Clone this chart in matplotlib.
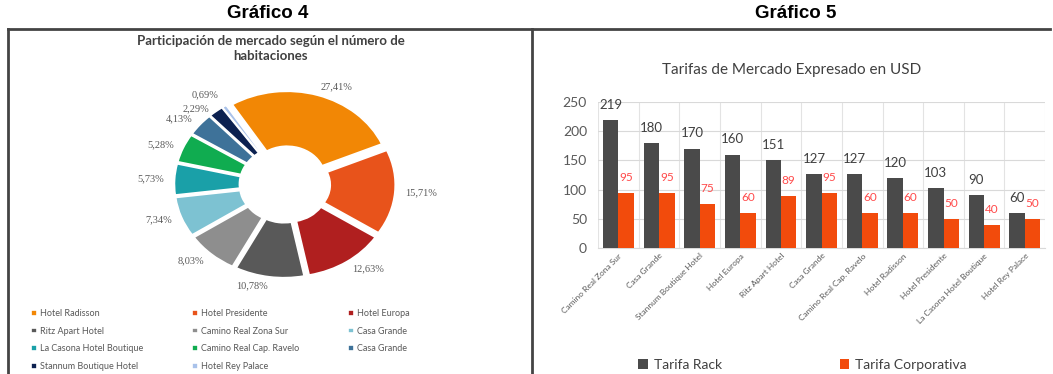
"""
Two market charts: room share donut (Gráfico 4) and rates bar chart (Gráfico 5)
"""
import numpy as np
import matplotlib
matplotlib.use('Agg')
import matplotlib.pyplot as plt
from matplotlib.lines import Line2D

# Gráfico 4 data
hotels_share = ['Hotel Radisson', 'Hotel Presidente', 'Hotel Europa',
                'Ritz Apart Hotel', 'Camino Real Zona Sur', 'Casa Grande',
                'La Casona Hotel Boutique', 'Camino Real Cap. Ravelo',
                'Casa Grande', 'Stannum Boutique Hotel', 'Hotel Rey Palace']
shares = [27.41, 15.71, 12.63, 10.78, 8.03, 7.34, 5.73, 5.28, 4.13, 2.29, 0.69]
share_colors = ['#F28705', '#E8531B', '#B01F1F', '#595959', '#8E8E8E',
                '#7DC2D2', '#1AA0A8', '#10AC50', '#3E7299', '#0C2150',
                '#A9C2EA']

# Gráfico 5 data
hotels_rate = ['Camino Real Zona Sur', 'Casa Grande', 'Stannum Boutique Hotel',
               'Hotel Europa', 'Ritz Apart Hotel', 'Casa Grande',
               'Camino Real Cap. Ravelo', 'Hotel Radisson', 'Hotel Presidente',
               'La Casona Hotel Boutique', 'Hotel Rey Palace']
rate_rack = [219, 180, 170, 160, 151, 127, 127, 120, 103, 90, 60]
rate_corp = [95, 95, 75, 60, 89, 95, 60, 60, 50, 40, 50]

fig = plt.figure(figsize=(10.53, 3.74), dpi=100)
fig.patch.set_facecolor('white')

# Frames around the two panels
frame_kw = dict(color='#444444', linewidth=2, transform=fig.transFigure)
fig.add_artist(Line2D([0.008, 0.997], [0.922, 0.922], **frame_kw))
fig.add_artist(Line2D([0.008, 0.008], [0.0, 0.922], **frame_kw))
fig.add_artist(Line2D([0.505, 0.505], [0.0, 0.922], **frame_kw))

fig.text(0.254, 0.963, 'Gráfico 4', ha='center', va='center',
         fontsize=13.5, fontweight='bold', family='Liberation Sans')
fig.text(0.756, 0.963, 'Gráfico 5', ha='center', va='center',
         fontsize=13.5, fontweight='bold', family='Liberation Sans')

# ---- Donut chart ----
ax1 = fig.add_axes([0.148, 0.227, 0.245, 0.56])
labels = [f'{v:.2f}%'.replace('.', ',') for v in shares]
wedges, texts = ax1.pie(shares, colors=share_colors, startangle=122,
                        counterclock=False, explode=[0.07] * len(shares),
                        labels=labels, labeldistance=1.1,
                        wedgeprops=dict(width=0.63, edgecolor='white', linewidth=1.2),
                        textprops=dict(fontsize=7.5, color='#595959',
                                       family='Liberation Serif'))
# the two thinnest slices sit next to each other: stack their labels
texts[-1].set_va('bottom')
texts[-2].set_va('top')
ax1.set_aspect('auto')
ax1.set_xlim(-1.25, 1.25)
ax1.set_ylim(-1.2, 1.2)

fig.text(0.257, 0.87, 'Participación de mercado según el número de\nhabitaciones',
         ha='center', va='center', fontsize=9.5, fontweight='bold',
         color='#404040', family='Lato', linespacing=1.25)

# Excel fills the legend row by row, matplotlib column by column
order = [0, 3, 6, 9, 1, 4, 7, 10, 2, 5, 8]
fig.legend([wedges[i] for i in order], [hotels_share[i] for i in order],
           loc='upper left', bbox_to_anchor=(0.022, 0.0, 0.375, 0.195),
           mode='expand', ncol=3, frameon=False,
           labelcolor='#595959', handlelength=0.6, handleheight=0.6,
           handletextpad=0.4, labelspacing=0.95, prop=dict(family='Lato', size=6.5))

# ---- Bar chart ----
ax2 = fig.add_axes([0.568, 0.337, 0.4245, 0.39])
x = np.arange(len(hotels_rate))
w = 0.38
b1 = ax2.bar(x - w / 2, rate_rack, w, color='#4A4A4A', label='Tarifa Rack', zorder=3)
b2 = ax2.bar(x + w / 2, rate_corp, w, color='#F24B0C', label='Tarifa Corporativa', zorder=3)

for rect, v in zip(b1, rate_rack):
    ax2.annotate(str(v), (rect.get_x() + rect.get_width() / 2, v),
                 xytext=(0, 11), textcoords='offset points', ha='center',
                 va='center', fontsize=9.5, color='#404040', family='Lato')
for rect, v in zip(b2, rate_corp):
    ax2.annotate(str(v), (rect.get_x() + rect.get_width() / 2, v),
                 xytext=(0, 11), textcoords='offset points', ha='center',
                 va='center', fontsize=8.5, color='#FF4A4A', family='Lato')

ax2.set_xlim(-0.5, len(hotels_rate) - 0.5)
ax2.set_ylim(0, 250)
ax2.set_yticks(range(0, 251, 50))
ax2.set_xticks(x)
ax2.set_xticklabels(hotels_rate, rotation=45, ha='right', rotation_mode='anchor',
                    fontsize=6, color='#595959', family='Lato')
ax2.set_xticks(np.arange(-0.5, len(hotels_rate), 0.5), minor=True)
ax2.tick_params(axis='y', labelsize=10, colors='#595959', length=0, pad=8)
ax2.tick_params(axis='x', length=0, pad=3)
ax2.tick_params(which='minor', length=0)
for lab in ax2.get_yticklabels():
    lab.set_family('Lato')
ax2.grid(axis='y', color='#D9D9D9', linewidth=0.8, zorder=0)
ax2.grid(axis='x', which='minor', color='#E3E3E3', linewidth=0.8, zorder=0)
for side in ['top', 'right', 'left']:
    ax2.spines[side].set_visible(False)
ax2.spines['bottom'].set_color('#D9D9D9')

fig.text(0.752, 0.813, 'Tarifas de Mercado Expresado en USD', ha='center',
         va='center', fontsize=11, color='#404040', family='Lato')

fig.legend([b1, b2], ['Tarifa Rack', 'Tarifa Corporativa'],
           loc='center', bbox_to_anchor=(0.762, 0.024), ncol=2, frameon=False,
           handlelength=0.7, handleheight=0.7, handletextpad=0.4,
           columnspacing=8.5, labelcolor='#404040',
           prop=dict(family='Lato', size=10))

fig.savefig('out.png', dpi=100)
